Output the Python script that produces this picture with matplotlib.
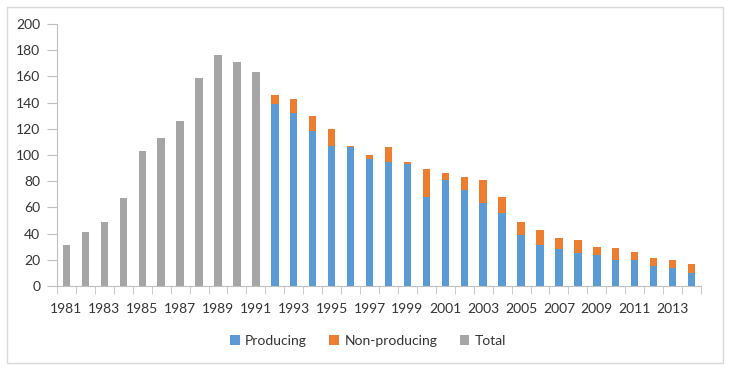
import numpy as np
import matplotlib
matplotlib.use('Agg')
import matplotlib.pyplot as plt
from matplotlib.patches import Rectangle

plt.rcParams['font.family'] = ['Lato', 'DejaVu Sans']

years = list(range(1981, 2015))
# 1981-1991 only a total is known
total = [31, 41, 49, 67, 103, 113, 126, 159, 176, 171, 163]
# 1992-2014 split into producing / non-producing
producing = [139, 132, 118, 107, 106, 97, 95, 93, 68, 81, 73, 63, 56,
             39, 31, 28, 25, 24, 20, 20, 15, 14, 10]
non_producing = [7, 11, 12, 13, 1, 3, 11, 2, 21, 5, 10, 18, 12,
                 10, 12, 9, 10, 6, 9, 6, 6, 6, 7]

n_tot = len(total)
x = np.arange(len(years))
prod_full = np.array([0] * n_tot + producing, dtype=float)
nonp_full = np.array([0] * n_tot + non_producing, dtype=float)
tot_full = np.array(total + [0] * len(producing), dtype=float)

fig = plt.figure(figsize=(7.29, 3.72), dpi=100)
ax = fig.add_axes([57 / 729, 1 - 286 / 372, 644 / 729, 262 / 372])

w = 0.39
ax.bar(x, prod_full, w, color='#5B9BD5', label='Producing')
ax.bar(x, nonp_full, w, bottom=prod_full, color='#ED7D31', label='Non-producing')
ax.bar(x, tot_full, w, bottom=prod_full + nonp_full, color='#A5A5A5', label='Total')

ax.set_xlim(-0.5, len(years) - 0.5)
ax.set_ylim(0, 200)
ax.set_yticks(range(0, 201, 20))
ax.set_xticks(x[::2])
ax.set_xticklabels([str(y) for y in years[::2]])
ax.set_xticks(np.arange(-0.5, len(years), 1), minor=True)
ax.tick_params(axis='x', which='major', length=0, pad=12, labelsize=10, colors='#333333')
ax.tick_params(axis='x', which='minor', length=6, color='#BFBFBF', direction='out')
ax.tick_params(axis='y', length=7, color='#BFBFBF', labelsize=10, labelcolor='#333333', pad=5)

for s in ['top', 'right']:
    ax.spines[s].set_visible(False)
for s in ['left', 'bottom']:
    ax.spines[s].set_color('#BFBFBF')

fig.legend(loc='center', bbox_to_anchor=(368 / 729, 1 - 341 / 372), ncol=3,
           frameon=False, fontsize=10, handlelength=0.7, handleheight=0.7,
           handletextpad=0.4, columnspacing=1.6, labelcolor='#333333')

fig.patches.append(Rectangle((7 / 729, 1 - 363 / 372), 716 / 729, 356 / 372,
                             transform=fig.transFigure, fill=False,
                             edgecolor='#D9D9D9', linewidth=1))

fig.savefig('out.png', dpi=100)
